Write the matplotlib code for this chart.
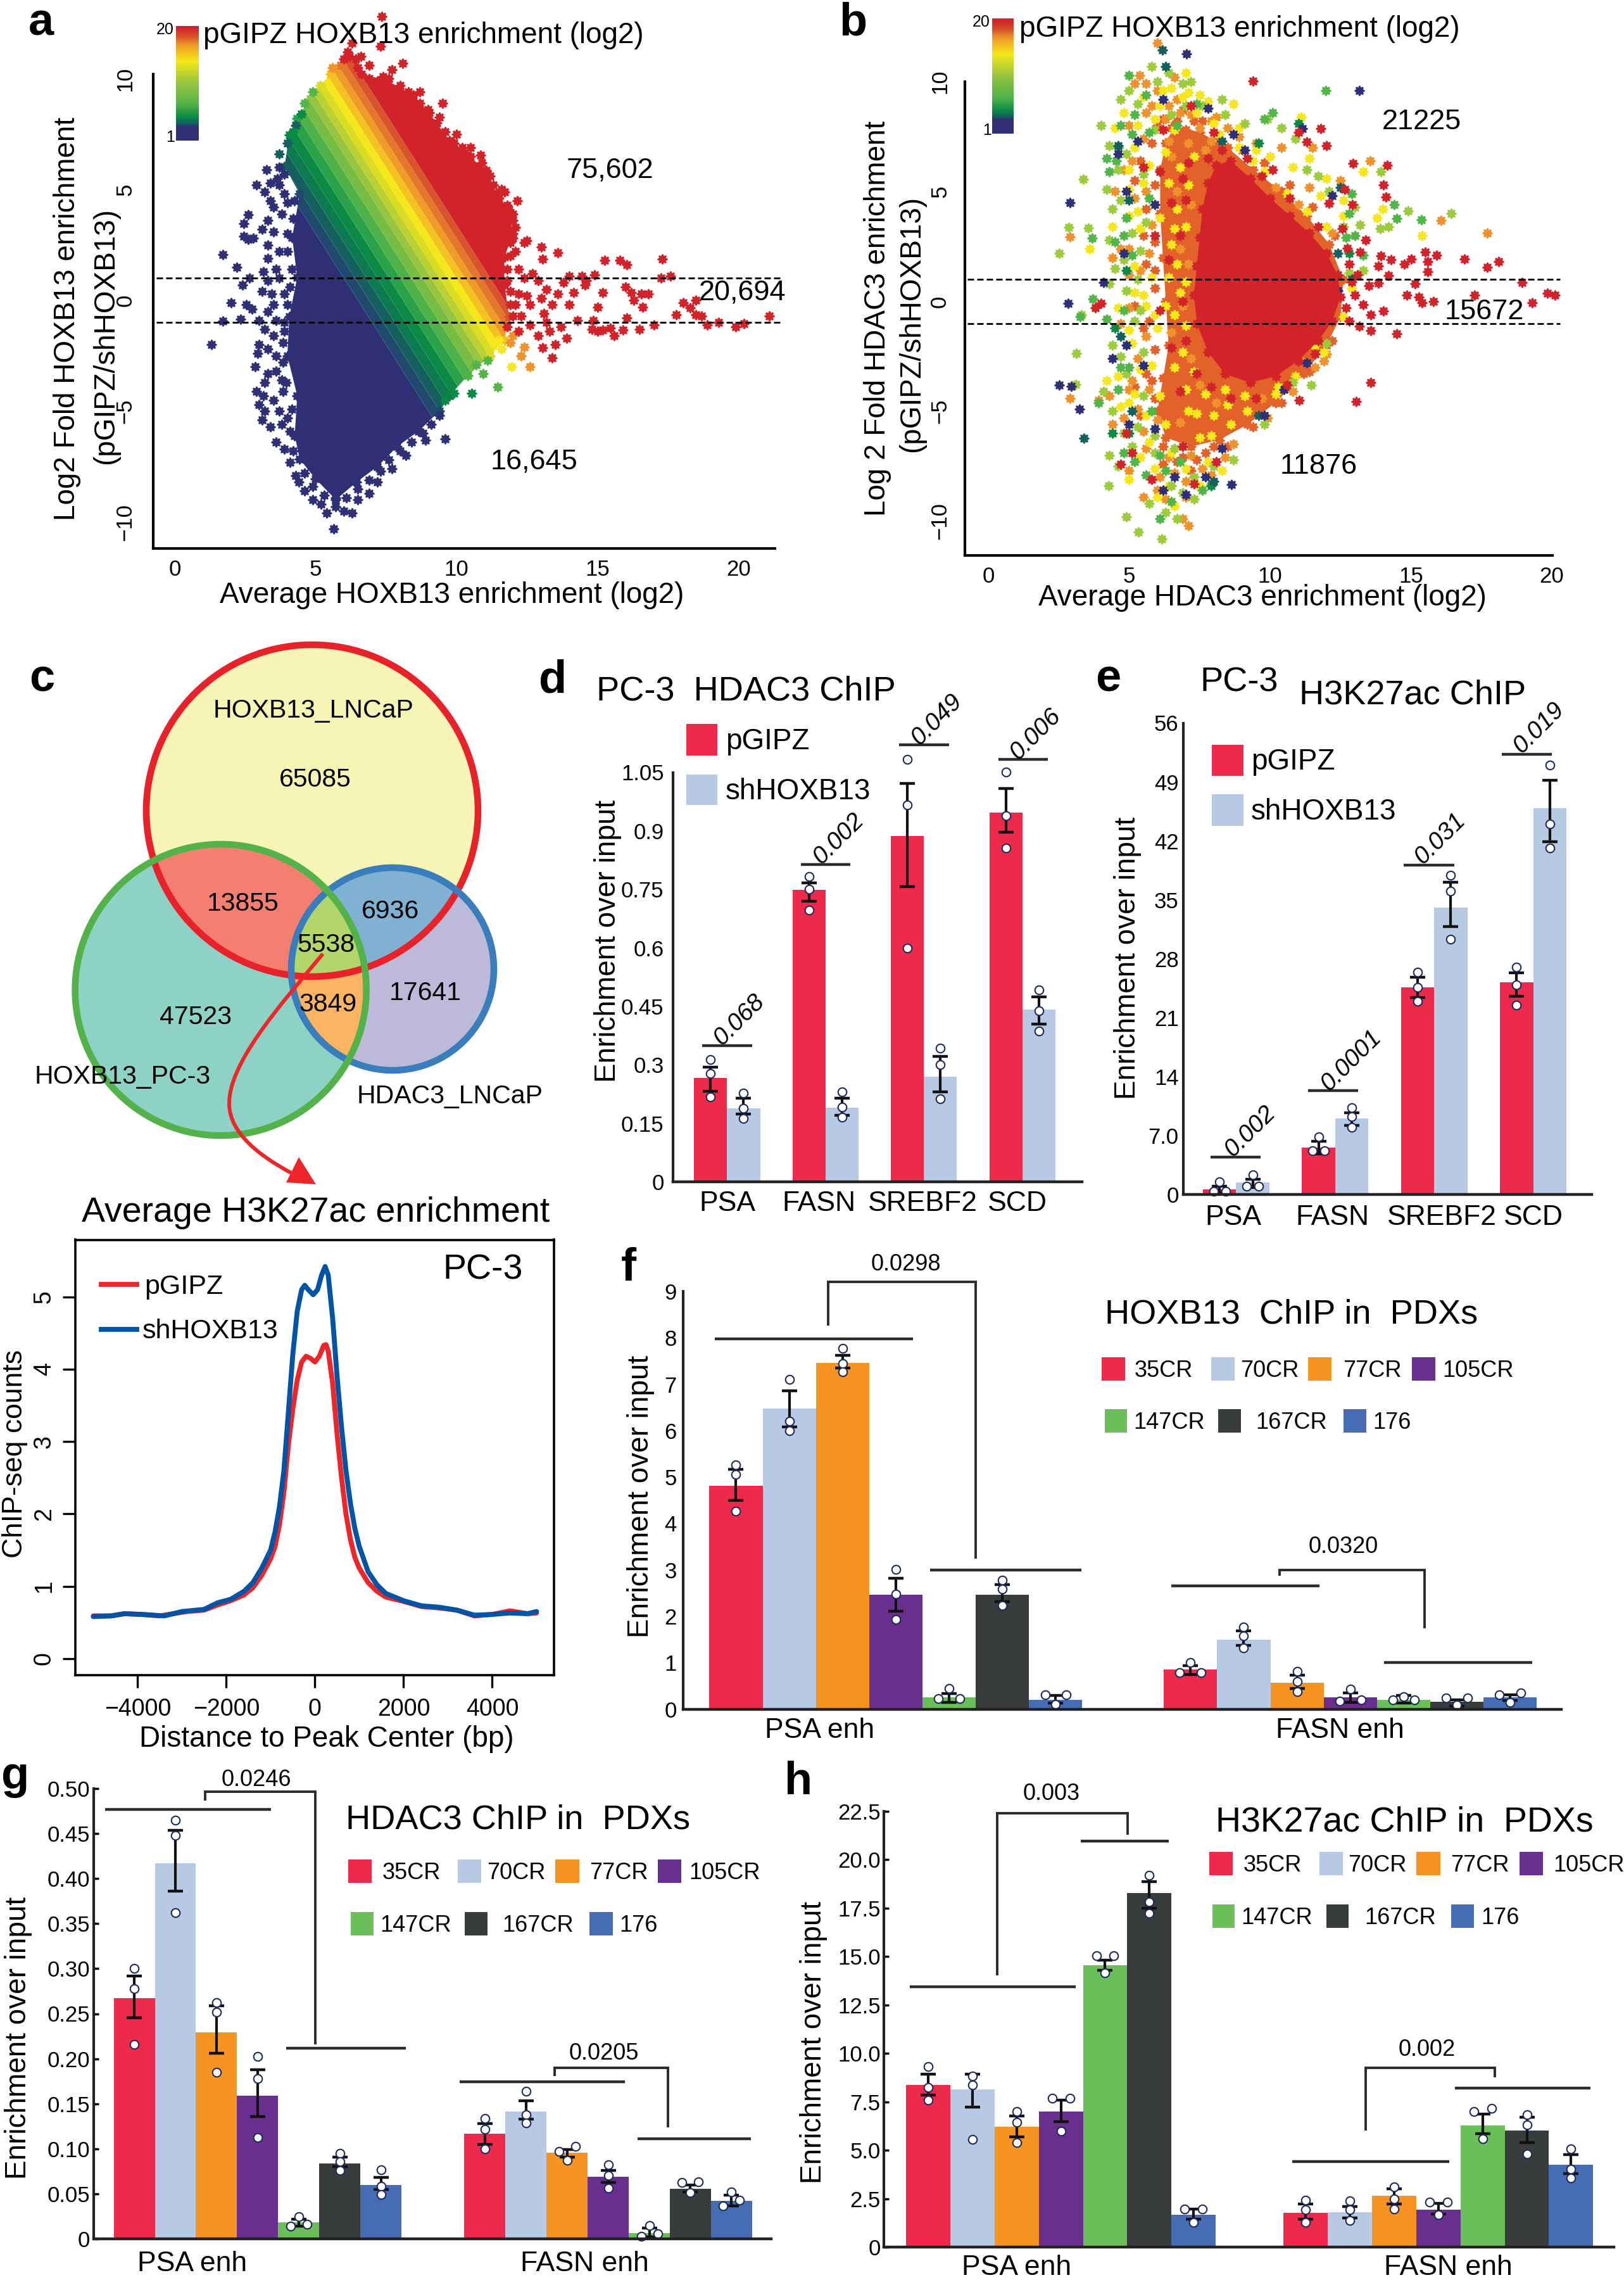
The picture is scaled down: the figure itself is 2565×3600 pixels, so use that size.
#!/usr/bin/env python3
"""Multi panel ChIP figure: MA plots, venn + profile, and bar charts with replicates."""
import numpy as np
import matplotlib
matplotlib.use('Agg')
import matplotlib.pyplot as plt
from matplotlib.colors import LinearSegmentedColormap
from matplotlib.patches import Circle, PathPatch, Polygon, Rectangle
from matplotlib.path import Path
from matplotlib.transforms import Affine2D

plt.rcParams['font.family'] = ['Liberation Sans', 'DejaVu Sans']

W, H = 2565, 3600

# colours
RED, LBLUE, ORANGE, PURPLE, GREEN, DARK, BLUE = ('#EE2A4C', '#B8CAE3', '#F79321', '#6A2F8E',
                                                 '#6BBF59', '#393C3D', '#466CB3')
PDX_COLORS = [RED, LBLUE, ORANGE, PURPLE, GREEN, DARK, BLUE]
PDX_NAMES = ['35CR', '70CR', '77CR', '105CR', '147CR', '167CR', '176']
SC_NAVY, SC_TEAL, SC_DGREEN, SC_GREEN, SC_LGREEN = '#2E2F74', '#15605F', '#0C8A45', '#52B548', '#9CCB3B'
SC_YELLOW, SC_ORANGE, SC_DORANGE, SC_RED = '#F6E71D', '#F0922B', '#E2622A', '#D2232A'

# =============================================================================
# a: MA plot, HOXB13
# =============================================================================
a_envelope = [(5.54, 10.2), (5.9, 10.6), (6.13, 11.2), (6.42, 10.9), (6.64, 10.2), (7.56, 9.9), (8.48, 9.25),
              (9.03, 8.45), (9.76, 7.2), (10.3, 6.67), (11.05, 5.86), (11.4, 4.8), (11.87, 4.08), (12.0, 3.0),
              (11.7, 1.94), (11.7, 0.7), (11.87, -0.74), (11.7, -1.8), (11.2, -2.5), (10.4, -3.4), (9.76, -4.3),
              (9.4, -5.0), (8.66, -5.9), (7.9, -6.6), (7.2, -7.5), (6.46, -8.2), (5.72, -9.0), (5.0, -8.06),
              (4.44, -7.17), (4.26, -6.1), (4.35, -4.3), (4.0, -2.5), (4.07, -0.74), (4.35, 1.04), (4.17, 2.83),
              (4.44, 4.8), (3.9, 6.04), (4.07, 7.47), (4.35, 8.2), (4.8, 9.1), (5.17, 9.7)]
# level of pGIPZ enrichment (average + fold/2) where each colour stripe starts
a_band_start = [0.0, 6.5, 6.9, 7.3, 7.7, 8.1, 8.5, 8.9, 9.3, 9.6, 9.9, 10.2, 10.5, 10.8, 11.1, 11.4, 11.7]
a_band_color = ['#2E2F74', '#1F4A6E', '#15605F', '#0E7A50', '#0B8A45', '#2BA24A', '#4FB248', '#76BC45', '#97C53F',
                '#BAD033', '#DCDC22', '#F5E81A', '#F3C221', '#EF9B27', '#E3772B', '#D8552B', '#D2232A']
a_red = [(21.1, -0.7), (20.2, -1.05), (19.9, -1.2), (19.3, -1.0), (18.9, -1.1), (18.7, -0.7), (18.5, -0.65),
         (18.5, 0.0), (18.05, -0.1), (18.3, -0.35), (17.8, -0.65), (17.6, 1.1), (17.3, 1.85), (17.25, 1.0),
         (17.0, -1.1), (16.5, -1.3), (16.8, 0.3), (16.55, 0.3), (16.6, -0.3), (16.05, 1.6), (15.8, 1.8), (15.25, 1.8),
         (16.0, 0.6), (16.2, 0.35), (16.3, 0.0), (16.05, -0.8), (15.9, -1.35), (15.6, -1.6), (15.2, -1.35),
         (15.45, -1.25), (14.85, -0.9), (15.2, 0.35), (15.0, -0.3), (14.9, 1.15), (14.45, 1.1), (14.55, 0.7),
         (14.15, 0.35), (14.0, -0.2), (13.9, -1.7), (13.5, -2.0), (13.4, -2.6), (13.05, -2.15), (13.6, 2.15),
         (13.0, 2.4), (13.05, 1.85), (12.5, 2.7), (12.15, 4.5), (14.6, 0.9), (14.3, -0.9), (14.8, -1.3), (15.0, -1.4),
         (13.7, -1.2), (13.3, -1.4), (13.1, -0.6), (13.4, -0.2), (13.6, 0.3), (13.2, 0.5), (12.9, 0.9), (12.7, 1.2),
         (13.0, 0.1), (12.6, -0.2), (12.3, -0.7), (12.6, -1.1), (12.9, -1.6), (12.2, 0.3), (12.4, 1.0), (12.2, 1.4),
         (12.1, 2.2), (12.4, 2.6), (12.0, 2.8), (11.7, 4.9), (12.0, 3.6), (11.8, -1.2), (12.2, -1.4), (13.8, 0.8),
         (14.0, 1.1), (13.2, -1.0), (12.5, 0.2), (12.1, -0.2), (7.35, 12.8), (6.3, 11.6), (7.3, 11.45), (8.1, 10.7),
         (7.4, 10.1), (6.6, 11.0), (6.9, 10.6), (7.7, 10.4), (8.7, 9.4), (9.5, 8.9), (9.4, 8.25), (10.85, 6.55),
         (10.5, 6.9), (11.2, 5.6), (11.6, 5.0), (10.0, 7.5), (6.9, 10.0), (7.2, 9.9), (7.6, 10.0), (8.0, 9.7), (8.3, 9.4),
         (8.7, 8.9), (9.0, 8.6), (9.3, 8.0), (9.6, 7.6), (9.9, 7.1), (10.2, 6.9), (10.5, 6.5), (10.9, 6.2), (11.1, 5.7),
         (11.3, 5.2), (11.5, 4.6), (11.8, 4.3), (12.0, 3.9), (12.1, 3.3), (11.9, 2.6), (11.9, 2.0), (11.8, 1.4), (11.8, 0.9),
         (11.9, 0.4), (11.9, -0.2), (12.0, -0.7), (6.5, 10.5), (6.2, 11.0), (6.0, 10.9)]
a_navy = [(1.3, -2.0), (1.7, 2.05), (2.2, 1.5), (1.7, -0.95), (2.0, -0.1), (2.35, -0.85), (2.4, 0.7), (2.65, 1.0),
          (2.6, 3.85), (2.45, 3.45), (2.45, 2.9), (2.6, 2.75), (2.8, 2.8), (2.9, 5.2), (3.25, 5.9), (2.9, -4.1),
          (3.15, -4.3), (2.85, -3.0), (2.95, -2.4), (3.3, -3.3), (3.1, 0.4), (3.3, 0.9), (2.55, -0.2), (2.75, -0.4),
          (3.2, -1.3), (3.0, -0.9), (3.5, -0.2), (3.6, 1.4), (3.3, 1.9), (3.7, 2.2), (3.1, 3.2), (3.3, 3.6), (3.5, 3.1),
          (3.8, 3.9), (3.2, 4.9), (3.4, 4.5), (3.7, 5.2), (3.9, 5.7), (3.4, 5.3), (3.6, -2.5), (3.8, -3.6), (3.5, -4.5),
          (3.2, -5.0), (3.0, -4.7), (3.4, -5.7), (3.6, -6.4), (3.9, -6.7), (4.1, -7.3), (4.3, -7.9), (4.6, -8.6),
          (4.9, -9.0), (5.2, -9.2), (5.4, -9.6), (5.65, -10.3), (6.3, -9.6), (6.0, -9.5), (6.5, -9.0), (6.9, -8.7),
          (7.2, -8.2), (7.7, -7.6), (8.2, -7.0), (8.9, -6.3), (9.6, -6.25), (3.9, -1.4), (3.6, -0.9), (3.9, 0.3),
          (5.7, -8.9), (4.4, -8.2), (4.0, -5.3), (3.85, -4.1), (3.7, 1.0), (4.0, 4.4), (9.4, -5.2), (9.1, -5.6), (8.8, -6.0),
          (8.4, -6.4), (8.0, -6.8), (7.6, -7.2), (7.3, -7.7), (6.9, -8.1), (6.5, -8.5), (6.1, -8.9), (5.7, -9.3), (5.3, -8.8),
          (4.9, -8.4), (4.6, -7.8), (4.2, -6.8), (4.1, -5.9), (4.15, -4.9), (3.95, -3.7), (3.85, -2.8), (3.85, -1.9),
          (3.9, -1.0), (4.0, -0.2), (4.1, 0.6), (4.15, 1.4), (4.0, 2.2), (4.0, 3.0), (4.2, 3.7), (4.25, 4.5), (3.9, 4.8),
          (3.65, 5.5), (3.7, 6.0), (3.5, 4.2), (3.3, 2.5), (3.15, 1.3), (3.45, 0.3), (3.3, -0.5), (3.5, -1.6), (3.3, -2.2),
          (3.0, -2.0), (3.6, -3.2), (3.2, -3.7), (3.7, -5.0), (3.8, -5.6), (3.1, -5.4)]
a_edge_teal = [(3.7, 6.6), (4.0, 7.1), (4.3, 7.9)]
a_edge_dgreen = [(4.2, 7.6), (4.5, 8.4), (9.6, -4.5), (9.9, -4.2), (10.55, -4.2)]
a_edge_green = [(11.45, -3.9), (10.95, -3.3), (10.7, -2.9), (11.1, -2.7), (4.6, 8.9), (4.9, 9.4)]
a_edge_yellow = [(11.95, -3.0), (11.6, -2.2), (11.5, -1.8)]
a_edge_orange = [(12.6, -3.0), (12.3, -2.5), (12.4, -2.1), (12.0, -1.6), (11.9, -1.9), (5.6, 10.5)]

# =============================================================================
# b: MA plot, HDAC3
# =============================================================================
b_mid_outline = [(6.6, 8.0), (7.5, 7.7), (8.5, 7.0), (9.4, 6.0), (10.4, 5.0), (11.3, 3.9), (12.1, 2.6), (12.6, 1.0),
                 (12.5, -0.7), (12.0, -2.0), (11.2, -3.3), (10.2, -4.6), (9.2, -5.6), (8.2, -6.3), (7.2, -6.6), (6.3, -6.2),
                 (6.0, -5.0), (6.2, -3.5), (6.4, -2.0), (6.3, 0.0), (6.2, 2.0), (6.1, 4.0), (6.1, 6.0), (6.3, 7.2)]
b_core_outline = [(8.6, 6.4), (9.3, 5.6), (10.0, 4.7), (10.7, 3.9), (11.4, 3.1), (12.0, 2.2), (12.4, 1.2), (12.5, 0.2),
                  (12.2, -0.9), (11.7, -1.8), (11.0, -2.7), (10.2, -3.4), (9.3, -3.7), (8.4, -3.3), (7.8, -2.3), (7.4, -1.0),
                  (7.3, 0.3), (7.4, 1.6), (7.5, 2.9), (7.6, 4.2), (7.8, 5.4), (8.1, 6.2)]
b_red = [(14.15, 6.2), (12.95, 6.27), (14.03, 5.3), (14.1, 4.75), (16.9, 1.93), (18.1, 1.8), (17.7, 1.55), (18.95, 0.85),
         (19.85, 0.37), (20.1, 0.3), (19.3, -0.07), (17.25, 0.3), (15.8, 0.0), (15.4, -0.07), (14.85, 0.3), (15.27, 0.2),
         (15.14, 0.8), (15.6, 1.35), (15.9, 2.1), (15.5, 2.25), (15.6, 1.8), (15.0, 1.93), (14.77, 1.7), (14.3, 1.9),
         (13.94, 2.07), (13.85, 1.62), (14.2, 1.18), (13.85, 0.82), (13.5, 0.73), (13.3, -0.16), (14.03, -0.43),
         (13.57, -0.6), (13.17, -1.14), (13.57, -1.32), (14.5, -1.46), (13.57, -3.7), (13.06, -4.57), (11.03, -4.5),
         (9.4, 10.02), (11.8, 7.86), (12.0, 7.1), (11.3, 7.25), (11.0, 7.7), (12.65, 5.1), (12.74, 2.43), (13.2, 2.25),
         (13.4, 2.8), (12.56, 3.3), (12.93, 4.4), (12.1, 4.48), (13.1, 1.2), (12.8, 1.7), (13.0, 0.3), (12.7, -0.3),
         (12.8, -0.9), (12.9, 0.9), (4.0, -0.1), (3.8, -0.3), (4.9, -6.0), (4.7, -7.4), (6.1, 5.9), (6.5, 4.5), (5.9, 3.0),
         (6.4, 1.9), (6.1, -0.4), (6.5, -2.1), (5.1, -6.9), (6.8, -4.1), (6.9, -6.6), (7.3, -8.3), (8.1, -7.3), (5.5, 6.1),
         (6.2, 7.8), (7.2, 8.9), (8.0, 7.7), (9.2, 6.5), (5.8, -8.1), (10.1, 6.0), (7.8, 6.5), (7.1, 6.3), (8.3, 6.9),
         (6.9, 5.6), (7.0, 4.6), (6.8, 3.0), (6.9, 0.0), (7.0, -1.8), (7.4, -3.3), (7.9, -3.9), (8.6, -4.4), (9.5, -4.4),
         (10.6, -3.8), (11.6, -2.4), (10.7, 4.7), (9.7, 5.7), (11.7, 3.4)]
b_dorange = [(6.2, 8.3), (6.9, 8.7), (7.3, 8.2), (8.2, 7.4), (9.0, 6.9), (9.8, 6.3), (10.7, 5.3), (11.5, 4.3), (12.3, 3.0),
             (5.8, 7.2), (5.4, 6.4), (5.9, 5.3), (5.6, 4.2), (5.9, 2.7), (5.6, 1.7), (5.9, 0.6), (5.7, -0.9), (5.9, -2.2),
             (5.6, -3.3), (5.9, -4.4), (5.4, -5.2), (6.2, -6.6), (6.9, -7.1), (7.7, -6.9), (8.5, -6.6), (9.4, -5.7),
             (10.4, -4.6), (11.4, -3.2), (12.2, -1.8), (6.0, 8.0), (6.5, 7.9), (7.0, 7.8), (7.6, 8.2), (6.7, 8.2), (5.2, 5.5),
             (5.5, 3.0), (5.9, 1.4), (5.2, -0.2), (5.5, -1.2), (5.2, -3.9), (5.8, -3.6), (6.2, -7.4), (6.7, -7.3), (7.4, -7.2),
             (7.2, -7.7), (8.0, -6.6)]
b_orange = [(16.06, 3.68), (17.7, 3.1), (13.54, 6.4), (2.9, 2.93), (6.0, 11.75), (5.38, 10.3), (5.2, 9.9), (5.6, 9.9),
            (6.0, 9.6), (6.4, 8.9), (6.8, 8.6), (5.0, 8.0), (5.6, 8.6), (4.8, 6.0), (4.5, 5.0), (6.5, 6.6), (7.1, 7.2),
            (7.7, 6.9), (8.1, 8.4), (8.9, 7.5), (9.5, 7.2), (10.4, 7.0), (11.5, 7.0), (12.5, 5.5), (12.2, 3.1),
            (2.9, -4.4), (3.9, -4.5), (4.3, -4.3), (4.7, 2.4), (4.4, 2.0), (5.0, 1.2), (4.7, -1.0), (5.1, -3.6), (4.4, -5.6),
            (4.8, -5.3), (5.5, -5.9), (5.0, -7.7), (5.5, -8.9), (6.1, -8.0), (6.6, -7.8), (6.9, -9.9), (7.1, -10.2),
            (7.0, -8.9), (7.6, -7.6), (8.4, -7.1), (9.9, -5.3), (10.8, -4.1), (11.6, -3.0), (12.0, -2.4), (11.4, 5.2),
            (6.4, 7.3), (6.7, 5.0), (7.2, 4.4), (6.8, 2.4), (7.1, 1.7), (6.9, -0.2), (6.5, -1.4), (7.2, -2.6), (7.5, -3.8),
            (6.8, -5.5), (8.1, -4.6), (9.7, -4.4), (8.6, 6.2), (7.9, 7.3), (10.2, 5.2), (11.0, 4.4), (11.9, -2.7),
            (5.1, 6.4), (5.6, 5.0), (5.2, 4.7), (5.8, 3.5), (5.0, 2.4), (5.7, 2.2), (5.4, 1.4), (5.0, -0.3), (5.6, -1.6),
            (5.3, -2.6), (5.0, -4.0), (5.7, -4.0), (5.3, -4.9), (6.0, -5.4), (5.6, -6.7), (6.4, -7.1), (7.2, -7.0), (7.0, -8.2),
            (6.3, -9.0), (6.0, -8.6), (7.9, -7.9), (8.7, -6.5), (5.8, 8.9), (6.3, 8.3), (6.7, 9.2), (7.2, 8.5), (7.5, 7.9),
            (7.9, 8.2), (8.5, 7.9), (6.6, 10.2), (5.5, 7.4)]
b_yellow = [(4.5, 7.9), (4.8, 8.6), (5.2, 7.0), (5.5, 9.3), (5.9, 8.3), (6.2, 9.6), (6.6, 7.8), (6.9, 9.3), (7.0, 10.4),
            (7.1, 9.5), (7.4, 8.6), (7.8, 9.1), (8.2, 7.6), (8.7, 9.0), (9.4, 6.4), (10.0, 6.6), (11.1, 8.4), (11.4, 6.5),
            (12.0, 5.6), (12.6, 4.6), (12.6, 3.9), (13.3, 5.9), (13.8, 3.8), (15.4, 3.0), (14.0, 4.2), (4.4, 3.4), (3.6, 2.4),
            (5.0, 5.1), (5.3, 4.1), (5.7, 6.2), (6.1, 3.8), (6.4, 5.4), (6.5, 2.6), (6.7, 4.2), (5.2, 1.6), (5.5, 0.3),
            (5.9, -0.6), (6.3, -0.2), (6.4, 1.1), (6.8, 0.4), (6.0, -1.2), (5.1, -1.9), (5.4, -3.1), (4.6, -3.4), (4.2, -3.6),
            (5.0, -4.6), (5.6, -5.2), (6.1, -4.3), (6.6, -3.0), (6.3, -5.6), (7.1, -5.0), (7.5, -6.2), (5.4, -7.1), (5.9, -7.6),
            (6.4, -8.4), (5.0, -8.1), (7.0, -7.6), (7.8, -7.3), (8.6, -5.6), (9.2, -5.0), (10.2, -4.2), (11.0, -2.6),
            (11.6, -2.0), (12.6, -0.7), (12.9, 0.6), (6.3, 6.8), (6.8, 6.1), (7.1, 5.3), (7.3, 6.6), (7.0, 3.4), (6.6, 3.3),
            (6.7, 1.7), (7.0, 0.9), (6.6, -0.6), (7.0, -1.1), (6.9, -2.3), (7.3, -3.2), (7.7, -4.2), (7.0, -4.0), (7.4, -5.1),
            (8.0, -5.2), (8.5, -4.7), (9.1, -4.3), (7.9, -6.1), (8.4, -4.0), (8.9, 7.0), (9.8, 5.9), (10.6, 4.9), (11.3, 4.1),
            (12.0, 3.4), (11.9, -2.3), (10.9, -3.4), (10.3, -3.9), (5.0, 6.0), (5.5, 5.4), (5.4, 3.3), (5.0, 3.9), (5.8, 1.1),
            (5.2, 0.4), (4.6, -0.3), (5.6, -0.2), (5.0, -1.3), (5.8, -2.9), (5.2, -4.2), (4.7, -4.8), (5.7, -6.4), (6.5, -6.9),
            (6.0, -8.9), (6.6, -9.3), (7.5, -8.4), (8.3, -7.7), (5.3, 8.0), (6.1, 8.9), (6.5, 9.7), (7.5, 9.4), (8.0, 8.1),
            (8.9, 7.9), (9.5, 6.9), (10.8, 6.1), (11.8, 4.8)]
b_lgreen = [(2.52, 2.2), (2.85, 3.37), (3.37, 5.57), (3.55, 3.35), (16.43, 4.0), (14.9, 4.12), (13.94, 5.9), (3.13, -2.36),
            (3.11, -3.77), (6.15, -10.82), (5.32, -10.5), (4.9, -9.8), (4.27, -8.4), (11.45, -3.82), (4.0, 8.0), (4.3, 7.1),
            (4.7, 9.2), (5.0, 9.6), (5.3, 9.0), (5.8, 10.7), (6.4, 10.4), (6.9, 9.9), (7.6, 8.9), (8.4, 8.5), (9.1, 8.1),
            (9.9, 8.3), (10.9, 7.4), (11.3, 6.0), (12.1, 5.0), (13.0, 4.3), (13.2, 3.5), (13.9, 3.3), (14.2, 3.4), (4.2, 5.1),
            (4.4, 4.2), (4.9, 6.7), (5.1, 3.1), (5.4, 2.3), (4.5, 1.5), (4.9, 0.5), (5.3, 1.0), (5.2, -0.9), (3.3, -0.6),
            (4.7, -2.5), (5.5, -2.3), (4.4, -5.0), (4.8, -6.0), (5.1, -6.6), (5.9, -6.1), (6.6, -6.7), (6.9, -8.7), (7.3, -8.0),
            (8.0, -7.5), (8.7, -7.2), (6.3, -9.6), (6.7, -9.9), (5.7, -9.2), (4.6, -7.5), (4.3, -7.0), (9.8, -5.6),
            (10.8, -3.7), (12.0, -1.9), (12.8, 1.3), (13.3, 1.4), (4.6, 6.0), (5.5, 5.8), (4.7, 4.6), (5.6, 3.6), (4.3, 2.8),
            (4.8, 1.9), (4.3, 0.8), (5.4, -0.4), (4.4, -2.0), (4.9, -3.3), (5.5, -4.3), (4.1, -4.1), (5.3, -5.7), (5.9, -6.9),
            (6.5, -8.4), (7.3, -9.0), (7.9, -8.3), (5.9, 7.8), (6.5, 8.5), (7.0, 8.9), (6.0, 10.0), (7.2, 10.0), (8.3, 9.2),
            (10.4, 7.9), (11.7, 5.7), (12.6, 3.4)]
b_green = [(15.36, 3.71), (11.97, 9.6), (14.4, 4.4), (14.5, 3.77), (3.68, 2.87), (3.26, -0.7), (4.3, 5.9), (4.6, 7.0), (4.7, 8.0),
           (5.2, 8.5), (5.6, 9.4), (4.55, 6.4), (4.5, 2.7), (4.9, 3.8), (4.8, -0.4), (4.6, -4.0), (5.0, -3.0), (4.8, -6.9),
           (5.6, -7.9), (6.1, -7.0), (6.5, -9.1), (6.8, -7.3), (13.0, 3.0), (12.7, 2.9), (13.3, 2.1), (12.8, 4.0), (10.1, 8.6),
           (9.8, 8.3), (5.0, 10.3), (12.9, 4.9), (3.9, -4.6), (3.7, 0.1), (5.1, 7.6), (5.7, 7.7), (4.2, 6.5), (5.7, 4.7), (4.8, 3.0),
           (5.1, 2.1), (4.2, -0.8), (4.7, -3.0), (5.8, -5.0), (5.2, -7.3), (6.3, -7.7), (7.6, -8.6), (6.1, -9.9), (6.7, 8.0),
           (7.4, 9.0)]
b_navy = [(2.9, 4.5), (2.84, -0.1), (7.03, 11.27), (13.17, 9.6), (8.64, -8.34), (2.52, -3.82), (2.95, -3.87), (3.24, -4.9),
          (11.14, 7.87), (4.1, 0.85), (7.8, 8.8), (8.7, 7.6), (9.1, 6.9), (4.6, 6.7), (4.9, 5.0), (4.8, 2.2), (4.9, -2.0),
          (5.0, -5.6), (5.9, -5.8), (6.6, -8.0), (7.0, -8.8), (9.8, -5.2), (10.5, -4.0), (11.3, -2.8), (12.4, 0.5), (12.2, 4.8),
          (5.3, 7.3), (5.9, 4.4), (4.4, -2.6), (5.5, -2.9), (6.2, -8.6), (7.7, -8.0), (8.3, -6.7), (6.2, 9.2)]
b_teal = [(6.17, 11.45), (3.39, -6.23), (6.3, 10.7), (4.6, 7.1), (5.0, 4.6), (4.7, -1.6), (5.1, -5.0), (8.0, -8.2), (9.6, -5.2),
          (12.5, 5.2), (12.4, 2.2), (12.9, 1.0), (8.3, 7.3)]
b_dgreen = [(11.0, 8.1), (4.9, 1.4), (4.5, -1.2), (5.0, -6.0), (7.9, -8.4), (4.4, -6.0), (12.8, 2.2), (9.6, 7.2)]

# colour scale next to the MA plots, bottom to top
scale_stops = [(0.0, '#2E2F74'), (0.12, '#2E2F74'), (0.15, '#15605F'), (0.2, '#0B8A45'), (0.31, '#4FB248'),
               (0.5, '#97C53F'), (0.69, '#F5E81A'), (0.83, '#EF9B27'), (0.9, '#D8552B'), (0.98, '#D2232A'), (1.0, '#D2232A')]

# =============================================================================
# c: venn counts and profile
# =============================================================================
venn_counts = [('65085', 498, 1228), ('13855', 384, 1424), ('6936', 616, 1436), ('5538', 515, 1489),
               ('3849', 518, 1583), ('17641', 672, 1565), ('47523', 309, 1603)]
venn_names = [('HOXB13_LNCaP', 495, 1119), ('HOXB13_PC-3', 194, 1697), ('HDAC3_LNCaP', 711, 1728)]

prof_x_red = [-5000, -4600, -4300, -3900, -3500, -3200, -2900, -2500, -2200, -1900, -1600, -1400, -1200, -1000, -900, -800,
              -700, -600, -500, -400, -300, -200, -100, 0, 100, 200, 250, 300, 400, 500, 600, 700, 800, 900, 1000, 1200,
              1400, 1600, 2000, 2400, 2800, 3200, 3600, 4000, 4400, 4800, 5000]
prof_y_red = [0.59, 0.59, 0.62, 0.61, 0.59, 0.62, 0.65, 0.67, 0.74, 0.8, 0.88, 0.98, 1.15, 1.38, 1.55, 1.85, 2.3, 2.95, 3.45,
              3.85, 4.1, 4.18, 4.15, 4.1, 4.18, 4.33, 4.34, 4.25, 3.8, 3.1, 2.5, 2.0, 1.65, 1.4, 1.25, 1.05, 0.93, 0.85, 0.79,
              0.72, 0.7, 0.67, 0.59, 0.61, 0.66, 0.62, 0.63]
prof_x_blue = [-5000, -4600, -4300, -3900, -3400, -3000, -2500, -2200, -1900, -1600, -1400, -1200, -1000, -900, -800, -700,
               -600, -500, -400, -300, -230, -150, -40, 60, 150, 230, 300, 400, 500, 600, 700, 800, 900, 1000, 1200, 1400,
               1600, 2000, 2400, 2800, 3200, 3600, 4000, 4400, 4800, 5000]
prof_y_blue = [0.58, 0.59, 0.62, 0.61, 0.59, 0.65, 0.68, 0.77, 0.82, 0.93, 1.05, 1.25, 1.5, 1.75, 2.1, 2.6, 3.4, 4.2, 4.8, 5.1,
               5.16, 5.1, 5.03, 5.1, 5.3, 5.42, 5.3, 4.7, 3.9, 3.2, 2.6, 2.15, 1.8, 1.55, 1.2, 1.02, 0.9, 0.8, 0.73, 0.71, 0.67,
               0.6, 0.61, 0.63, 0.62, 0.65]

# =============================================================================
# d: PC-3 HDAC3 ChIP
# =============================================================================
d_red = [0.267, 0.749, 0.887, 0.947]
d_blue = [0.189, 0.19, 0.27, 0.442]
d_red_hi = [0.294, 0.766, 1.021, 1.008]
d_red_lo = [0.233, 0.72, 0.757, 0.896]
d_blue_hi = [0.215, 0.215, 0.321, 0.475]
d_blue_lo = [0.173, 0.171, 0.23, 0.405]
d_red_pts = [[0.313, 0.278, 0.218], [0.783, 0.75, 0.697], [1.083, 0.966, 0.599], [1.051, 0.938, 0.856]]
d_blue_pts = [[0.227, 0.189, 0.162], [0.23, 0.192, 0.165], [0.343, 0.3, 0.213], [0.492, 0.438, 0.387]]
d_sig = [(-0.253, 0.253, 0.35), (0.75, 1.255, 0.813), (1.75, 2.255, 1.121), (2.755, 3.26, 1.084)]
d_ptext = [('0.068', 1168, 1608), ('0.002', 1325, 1322), ('0.049', 1480, 1134), ('0.006', 1636, 1157)]
d_ticks = [0, 0.15, 0.3, 0.45, 0.6, 0.75, 0.9, 1.05]
d_ticklabels = ['0', '0.15', '0.3', '0.45', '0.6', '0.75', '0.9', '1.05']

# =============================================================================
# e: PC-3 H3K27ac ChIP
# =============================================================================
e_red = [0.6, 5.52, 24.6, 25.2]
e_blue = [1.37, 8.97, 34.05, 45.9]
e_red_hi = [0.93, 6.3, 25.8, 26.3]
e_red_lo = [0.13, 4.8, 23.4, 23.5]
e_blue_hi = [1.8, 9.67, 37.1, 49.2]
e_blue_lo = [0.8, 8.2, 31.8, 41.9]
e_red_pts = [[1.46, 0.35, 0.35], [6.85, 5.17, 5.17], [26.4, 24.6, 22.9], [27.0, 24.9, 22.5]]
e_blue_pts = [[2.34, 0.93, 0.93], [10.3, 9.19, 7.95], [37.9, 36.0, 30.3], [51.0, 43.99, 41.1]]
e_sig = [(-0.258, 0.245, 4.42), (0.726, 1.229, 12.28), (1.69, 2.2, 39.1), (2.68, 3.19, 52.3)]
e_ptext = [('0.002', 1975, 1784), ('0.0001', 2134, 1672), ('0.031', 2275, 1322), ('0.019', 2431, 1147)]
e_ticks = [0, 7, 14, 21, 28, 35, 42, 49, 56]
e_ticklabels = ['0', '7.0', '14', '21', '28', '35', '42', '49', '56']

# =============================================================================
# f: HOXB13 ChIP in PDXs
# =============================================================================
f_psa = [4.81, 6.47, 7.46, 2.47, 0.26, 2.47, 0.2]
f_psa_hi = [5.17, 6.86, 7.62, 2.82, 0.34, 2.68, 0.3]
f_psa_lo = [4.5, 6.08, 7.35, 2.11, 0.15, 2.32, 0.13]
f_psa_pts = [[5.26, 5.06, 4.26], [7.11, 6.2, 6.0], [7.77, 7.44, 7.27], [3.01, 2.48, 1.93], [0.44, 0.22, 0.22],
             [2.78, 2.59, 2.23], [0.31, 0.31, 0.11]]
f_fasn = [0.85, 1.5, 0.57, 0.26, 0.2, 0.16, 0.25]
f_fasn_hi = [0.93, 1.68, 0.73, 0.35, 0.3, 0.2, 0.31]
f_fasn_lo = [0.74, 1.37, 0.44, 0.15, 0.13, 0.06, 0.18]
f_fasn_pts = [[1.0, 0.79, 0.79], [1.77, 1.58, 1.32], [0.82, 0.6, 0.38], [0.43, 0.2, 0.17], [0.27, 0.2, 0.2],
              [0.24, 0.24, 0.09], [0.35, 0.31, 0.15]]
f_lines = [(-0.4, 3.32, 7.98), (3.64, 6.48, 3.0), (8.17, 10.95, 2.65), (12.16, 14.94, 1.0)]
f_brackets = [([1.73, 1.73, 4.5, 4.5], [8.26, 9.2, 9.2, 3.24]), ([10.2, 10.2, 12.92, 12.92], [2.88, 3.0, 3.0, 1.74])]
f_ticks = list(range(10))

# =============================================================================
# g: HDAC3 ChIP in PDXs
# =============================================================================
g_psa = [0.267, 0.417, 0.229, 0.159, 0.018, 0.084, 0.06]
g_psa_hi = [0.2917, 0.4536, 0.2585, 0.1876, 0.022, 0.0906, 0.0683]
g_psa_lo = [0.2453, 0.3864, 0.2057, 0.1358, 0.014, 0.08, 0.0547]
g_psa_pts = [[0.3, 0.278, 0.216], [0.4645, 0.448, 0.362], [0.262, 0.2517, 0.185], [0.2023, 0.178, 0.1128],
             [0.0245, 0.016, 0.0143], [0.095, 0.086, 0.0762], [0.0766, 0.0585, 0.049]]
g_fasn = [0.117, 0.1415, 0.0955, 0.0687, 0.0065, 0.0555, 0.0423]
g_fasn_hi = [0.128, 0.153, 0.0992, 0.0762, 0.012, 0.0596, 0.0483]
g_fasn_lo = [0.105, 0.133, 0.0906, 0.0623, 0.0019, 0.052, 0.0366]
g_fasn_pts = [[0.1336, 0.122, 0.1], [0.1638, 0.1377, 0.129], [0.103, 0.097, 0.0872], [0.082, 0.0706, 0.0562],
              [0.0151, 0.0057, 0.0026], [0.063, 0.0623, 0.051], [0.052, 0.0426, 0.0366]]
g_lines = [(-0.71, 3.32, 0.477), (3.69, 6.61, 0.2117), (7.91, 11.93, 0.1743), (12.24, 15.0, 0.1113)]
g_brackets = [([1.73, 1.73, 4.4, 4.4], [0.4868, 0.4962, 0.4962, 0.2158]),
              ([10.22, 10.22, 12.99, 12.99], [0.181, 0.19, 0.19, 0.1238])]
g_ticks = [0, 0.05, 0.1, 0.15, 0.2, 0.25, 0.3, 0.35, 0.4, 0.45, 0.5]
g_ticklabels = ['0', '0.05', '0.10', '0.15', '0.20', '0.25', '0.30', '0.35', '0.40', '0.45', '0.50']

# =============================================================================
# h: H3K27ac ChIP in PDXs
# =============================================================================
h_psa = [8.39, 8.14, 6.23, 7.0, 14.56, 18.28, 1.68]
h_psa_hi = [8.95, 8.95, 6.77, 7.6, 14.82, 18.88, 1.96]
h_psa_lo = [7.86, 7.23, 5.7, 6.5, 14.3, 17.5, 1.44]
h_psa_pts = [[9.32, 8.25, 7.58], [8.84, 8.39, 5.56], [7.02, 6.46, 5.4], [7.68, 7.68, 6.0], [15.05, 15.05, 14.16],
             [19.2, 17.82, 17.25], [1.98, 1.98, 1.28]]
h_fasn = [1.77, 1.82, 2.65, 1.93, 6.3, 6.02, 4.25]
h_fasn_hi = [2.25, 2.1, 3.02, 2.28, 6.88, 6.72, 4.79]
h_fasn_lo = [1.46, 1.53, 2.25, 1.72, 5.86, 5.4, 3.79]
h_fasn_pts = [[2.42, 1.93, 1.28], [2.4, 1.93, 1.4], [3.12, 2.49, 1.98], [2.33, 2.33, 1.67], [7.02, 7.16, 5.61],
              [6.84, 6.32, 4.81], [5.09, 4.02, 3.56]]
h_lines = [(-0.42, 3.33, 13.44), (3.45, 5.44, 20.98), (8.23, 11.77, 4.44), (11.91, 14.97, 8.21)]
h_brackets = [([1.56, 1.56, 4.51, 4.51], [14.04, 22.4, 22.4, 21.28]), ([9.89, 9.89, 12.8, 12.8], [6.02, 9.25, 9.25, 8.77])]
h_ticks = [0, 2.5, 5, 7.5, 10, 12.5, 15, 17.5, 20, 22.5]
h_ticklabels = ['0', '2.5', '5.0', '7.5', '10.0', '12.5', '15.0', '17.5', '20.0', '22.5']

# =============================================================================
# helpers (everything placed in pixels of the final picture)
# =============================================================================
fig = plt.figure(figsize=(W / 100, H / 100), dpi=100)
PX = Affine2D().scale(1 / W, -1 / H).translate(0, 1) + fig.transFigure


def ax_px(x0, y0, x1, y1):
    ax = fig.add_axes([x0 / W, 1 - y1 / H, (x1 - x0) / W, (y1 - y0) / H])
    ax.patch.set_visible(False)
    return ax


def px_text(x, y, s, size, ha='center', va='center', **kw):
    return fig.text(x, y + 3, s, fontsize=size, ha=ha, va=va, transform=PX, **kw)


def set_labels(ax, xlabel, ylabel, size=33):
    if xlabel:
        ax.set_xlabel(xlabel[0], fontsize=size, va='center')
        ax.xaxis.set_label_coords(xlabel[1], xlabel[2] + 3, transform=PX)
    ax.set_ylabel(ylabel[0], fontsize=size, va='center')
    ax.yaxis.set_label_coords(ylabel[1], ylabel[2], transform=PX)


def swatches(rows, size=26):
    for (x0, y0, x1, y1, color, label, tx) in rows:
        fig.add_artist(Rectangle((x0, y0), x1 - x0, y1 - y0, transform=PX, color=color, lw=0))
        px_text(tx, (y0 + y1) / 2, label, size, ha='left')


def dodge(vals, gap, dx):
    """Two replicates closer than gap sit side by side, the others stay on the bar centre."""
    vals = list(vals)
    off = [0.0] * len(vals)
    order = np.argsort(vals)
    for a, b in zip(order[:-1], order[1:]):
        if off[a] == 0 and off[b] == 0 and abs(vals[a] - vals[b]) < gap:
            off[a], off[b] = -dx, dx
    return off


def draw_bars(ax, xs, vals, colors, hi, lo, pts, width, gap, dx):
    xs, hi, lo = np.asarray(xs, float), np.asarray(hi), np.asarray(lo)
    ax.bar(xs, vals, width, color=colors, linewidth=0, zorder=2)
    ax.errorbar(xs, (hi + lo) / 2, yerr=(hi - lo) / 2, fmt='none', ecolor='#111111', elinewidth=3, capsize=8.5,
                capthick=3.2, clip_on=False, zorder=3)
    for x, p in zip(xs, pts):
        off = dodge(p, gap, dx)
        ax.scatter(x + np.array(off), p, s=95, facecolor='white', edgecolor='#1D2A5C', linewidth=1.5,
                   clip_on=False, zorder=4)


def style_bar_axis(ax, xlim, ylim, yticks, yticklabels, pad, xticks, xticklabels, xpad, tick_at=None, all_ticks=False):
    ax.set_xlim(*xlim)
    ax.set_ylim(*ylim)
    for side in ('top', 'right'):
        ax.spines[side].set_visible(False)
    ax.spines['left'].set_linewidth(3)
    ax.spines['bottom'].set_linewidth(3.2)
    ax.spines['left'].set_color('#222222')
    ax.spines['bottom'].set_color('#222222')
    ax.spines['bottom'].set_zorder(5)
    ax.set_yticks(yticks)
    ax.set_yticklabels(yticklabels)
    ax.set_xticks(xticks)
    ax.set_xticklabels(xticklabels)
    ax.tick_params(axis='x', length=0, labelsize=32, pad=xpad)
    if all_ticks:
        ax.tick_params(axis='y', direction='in', length=6, width=2.5, labelsize=25, pad=pad)
    else:
        ax.tick_params(axis='y', length=0, labelsize=25, pad=pad)
    if tick_at is not None:
        ax.set_yticks(tick_at, minor=True)
        ax.tick_params(axis='y', which='minor', direction='in', length=7, width=3)


def sig_lines(ax, lines, brackets=()):
    for x0, x1, y in lines:
        ax.plot([x0, x1], [y, y], color='#2B2B2B', lw=3.2, solid_capstyle='butt', clip_on=False, zorder=5)
    for xs, ys in brackets:
        ax.plot(xs, ys, color='#2B2B2B', lw=2.8, solid_capstyle='butt', solid_joinstyle='miter', clip_on=False, zorder=5)


def scatter_set(ax, pts, color, size=95):
    ax.scatter([p[0] for p in pts], [p[1] for p in pts], s=size, marker=(8, 1, 0), facecolor=color, edgecolor=color,
               linewidths=2.2, clip_on=False, zorder=3)


def ma_axis(rect, xlim, ylim, pad, xpad):
    ax = ax_px(*rect)
    ax.set_xlim(*xlim)
    ax.set_ylim(*ylim)
    for side in ('top', 'right'):
        ax.spines[side].set_visible(False)
    ax.spines['left'].set_linewidth(3)
    ax.spines['bottom'].set_linewidth(3)
    ax.set_xticks([0, 5, 10, 15, 20])
    ax.set_yticks([-10, -5, 0, 5, 10])
    ax.set_yticklabels(['\u221210', '\u22125', '0', '5', '10'], rotation=90, va='center')
    ax.tick_params(axis='both', length=0, labelsize=25)
    ax.tick_params(axis='y', pad=pad)
    ax.tick_params(axis='x', pad=xpad)
    return ax


def color_scale(x0, y0, x1, y1, tx20, ty20, tx1, ty1):
    cax = ax_px(x0, y0, x1, y1)
    cmap = LinearSegmentedColormap.from_list('scale', scale_stops)
    cax.imshow(np.linspace(1, 0, 256).reshape(-1, 1), cmap=cmap, aspect='auto', vmin=0, vmax=1)
    cax.axis('off')
    cax.set_zorder(4)
    px_text(tx20, ty20, '20', 18)
    px_text(tx1, ty1, '1', 18)


# =============================================================================
# panel a
# =============================================================================
ax = ma_axis((242, 117.5, 1224, 866), (-0.76, 21.3), (-11.2, 10.19), 20, 12)
env = Polygon(a_envelope, closed=True, fill=False, lw=0)
ax.add_patch(env)
env.set_clip_box(None)
for i, col in enumerate(a_band_color):
    v0 = a_band_start[i]
    v1 = a_band_start[i + 1] if i + 1 < len(a_band_start) else 40.0
    band = ax.fill([v0 - 8, v1 - 8, v1 + 8, v0 + 8], [16, 16, -16, -16], color=col, lw=0, zorder=2)[0]
    band.set_clip_box(None)
    band.set_clip_path(env)
# rough rim: envelope points take the colour of the stripe they fall in
for x, y in a_envelope:
    idx = np.searchsorted(a_band_start, x + y / 2) - 1
    scatter_set(ax, [(x, y)], a_band_color[idx])
scatter_set(ax, a_navy, SC_NAVY)
scatter_set(ax, a_edge_teal, SC_TEAL)
scatter_set(ax, a_edge_dgreen, SC_DGREEN)
scatter_set(ax, a_edge_green, SC_GREEN)
scatter_set(ax, a_edge_yellow, SC_YELLOW)
scatter_set(ax, a_edge_orange, SC_ORANGE)
scatter_set(ax, a_red, SC_RED)
for y in (1, -1):
    ax.plot([-0.65, 21.6], [y, y], color='black', lw=2, dashes=(3.6, 1.8), clip_on=False, zorder=4)
set_labels(ax, ('Average HOXB13 enrichment (log2)', 714, 937), ('Log2 Fold HOXB13 enrichment', 106, 503))
px_text(167, 527, '(pGIPZ/shHOXB13)', 33, rotation=90)
color_scale(277.5, 40.6, 312.6, 222, 261, 44, 269, 214)
px_text(321, 53, 'pGIPZ HOXB13 enrichment (log2)', 33, ha='left')
px_text(963, 266, '75,602', 32.5)
px_text(1173, 459, '20,694', 32.5)
px_text(843, 726, '16,645', 32.5)

# =============================================================================
# panel b
# =============================================================================
ax = ma_axis((1524, 129, 2452, 877), (-0.83, 20.02), (-11.56, 9.81), 16.5, 12)
ax.add_patch(Polygon(b_mid_outline, closed=True, color=SC_DORANGE, lw=0, zorder=2))
scatter_set(ax, b_mid_outline, SC_DORANGE)
scatter_set(ax, b_dorange, SC_DORANGE)
scatter_set(ax, b_orange, SC_ORANGE)
scatter_set(ax, b_yellow, SC_YELLOW)
scatter_set(ax, b_lgreen, SC_LGREEN)
scatter_set(ax, b_green, SC_GREEN)
scatter_set(ax, b_dgreen, SC_DGREEN)
scatter_set(ax, b_teal, SC_TEAL)
scatter_set(ax, b_navy, SC_NAVY)
scatter_set(ax, b_red, SC_RED)
scatter_set(ax, b_core_outline, SC_RED)
ax.add_patch(Polygon(b_core_outline, closed=True, color=SC_RED, lw=0, zorder=3.2))
for y in (1, -1):
    ax.plot([-0.74, 20.3], [y, y], color='black', lw=2, dashes=(3.6, 1.8), clip_on=False, zorder=4)
set_labels(ax, ('Average HDAC3 enrichment (log2)', 1994, 941), ('Log 2 Fold HDAC3 enrichment', 1386, 503))
px_text(1440, 508, '(pGIPZ/shHOXB13)', 33, rotation=90)
color_scale(1567, 29, 1601, 211, 1550, 32.5, 1559, 203)
px_text(1610, 42.5, 'pGIPZ HOXB13 enrichment (log2)', 33, ha='left')
px_text(2245, 190, '21225', 32.5)
px_text(2344, 489, '15672', 32.5)
px_text(2083, 733, '11876', 32.5)

# =============================================================================
# panel c: venn
# =============================================================================
ax = ax_px(0, 980, 900, 1890)
ax.set_xlim(0, 900)
ax.set_ylim(1890, 980)
ax.axis('off')
A, B, C = ((493, 1280), 262), ((348.6, 1563), 230), ((620, 1530), 160)


def disc(c, color):
    p = Circle(c[0], c[1], facecolor=color, edgecolor='none')
    ax.add_patch(p)
    return p


def rim(c, color):
    ax.add_patch(Circle(c[0], c[1], facecolor='none', edgecolor=color, lw=7.6))


def overlap(c1, c2, color):
    p = disc(c1, color)
    clip = Circle(c2[0], c2[1], transform=ax.transData)
    p.set_clip_path(clip)


disc(A, '#F7F5B5')
disc(B, '#8DD2C5')
disc(C, '#BDBAD9')
overlap(A, B, '#F47E70')
overlap(A, C, '#80B1D3')
overlap(B, C, '#FDB462')
# outline of the three way overlap: circle points that lie inside the other two
tri = []
for c, others in ((A, (B, C)), (B, (A, C)), (C, (A, B))):
    t = np.linspace(0, 2 * np.pi, 1500)
    px, py = c[0][0] + c[1] * np.cos(t), c[0][1] + c[1] * np.sin(t)
    keep = np.ones_like(t, bool)
    for o in others:
        keep &= (px - o[0][0]) ** 2 + (py - o[0][1]) ** 2 < o[1] ** 2
    tri += list(zip(px[keep], py[keep]))
tri = np.array(tri)
mid = tri.mean(axis=0)
tri = tri[np.argsort(np.arctan2(tri[:, 1] - mid[1], tri[:, 0] - mid[0]))]
ax.add_patch(Polygon(tri, closed=True, color='#B3D66C', lw=0))
rim(A, '#E8212A')
rim(C, '#3A7DBD')
rim(B, '#53B24A')
for s, x, y in venn_counts + venn_names:
    px_text(x, y, s, 29.5)
arrow = Path([(510, 1506), (440, 1590), (360, 1680), (362, 1745), (364, 1790), (410, 1825), (460, 1852)],
             [Path.MOVETO, Path.CURVE4, Path.CURVE4, Path.CURVE4, Path.CURVE4, Path.CURVE4, Path.CURVE4])
ax.add_patch(PathPatch(arrow, facecolor='none', edgecolor='#EE2529', lw=4.3, zorder=6))
ax.add_patch(Polygon([(472, 1827), (452, 1867), (499, 1870)], closed=True, color='#EE2529', lw=0, zorder=6))

# =============================================================================
# panel c: profile
# =============================================================================
ax = ax_px(119, 1957.5, 875, 2644.6)
ax.plot(prof_x_red, prof_y_red, color='#EE2529', lw=5.6, solid_capstyle='round')
ax.plot(prof_x_blue, prof_y_blue, color='#0054A6', lw=5.6, solid_capstyle='round')
ax.set_xlim(-5406, 5394)
ax.set_ylim(-0.226, 5.79)
for s in ax.spines.values():
    s.set_linewidth(2.6)
ax.set_xticks([-4000, -2000, 0, 2000, 4000])
ax.set_xticklabels(['\u22124000', '\u22122000', '0', '2000', '4000'])
ax.set_yticks([0, 1, 2, 3, 4, 5])
ax.set_yticklabels(['0', '1', '2', '3', '4', '5'], rotation=90, va='center')
ax.tick_params(axis='both', length=14.4, width=2.4, labelsize=27)
ax.tick_params(axis='x', pad=12)
ax.tick_params(axis='y', pad=8)
set_labels(ax, ('Distance to Peak Center (bp)', 516, 2743), ('ChIP-seq counts', 24, 2296), size=32)
ax.xaxis.label.set_fontsize(33)
px_text(499, 1912, 'Average H3K27ac enrichment', 40)
px_text(763, 2003, 'PC-3', 40)
fig.add_artist(plt.Line2D([160, 216], [2027.5, 2027.5], color='#EE2529', lw=5.6, transform=PX))
fig.add_artist(plt.Line2D([160, 216], [2099, 2099], color='#0054A6', lw=5.6, transform=PX))
px_text(228, 2029, 'pGIPZ', 31, ha='left')
px_text(225, 2099, 'shHOXB13', 31, ha='left')

# =============================================================================
# panel d
# =============================================================================
ax = ax_px(1062.5, 1219.5, 1709, 1866)
xg = np.arange(4)
draw_bars(ax, xg - 0.1675, d_red, RED, d_red_hi, d_red_lo, d_red_pts, 0.335, 0.02, 0.06)
draw_bars(ax, xg + 0.1675, d_blue, LBLUE, d_blue_hi, d_blue_lo, d_blue_pts, 0.335, 0.02, 0.06)
style_bar_axis(ax, (-0.553, 3.607), (0, 1.05), d_ticks, d_ticklabels, 10, [0, 0.93, 1.99, 2.95],
               ['PSA', 'FASN', 'SREBF2', 'SCD'], 10, tick_at=[1.05])
sig_lines(ax, d_sig)
set_labels(ax, None, ('Enrichment over input', 960, 1486))
px_text(942, 1089, 'PC-3  HDAC3 ChIP', 39, ha='left')
swatches([(1084, 1143, 1132.5, 1193, RED, 'pGIPZ', 1146), (1084, 1222.5, 1132.5, 1271, LBLUE, 'shHOXB13', 1146)], 33)
for s, x, y in d_ptext:
    px_text(x, y, s, 28, rotation=45, style='italic', rotation_mode='anchor')

# =============================================================================
# panel e
# =============================================================================
ax = ax_px(1868.5, 1141.5, 2514, 1885.6)
draw_bars(ax, xg - 0.1675, e_red, RED, e_red_hi, e_red_lo, e_red_pts, 0.335, 1.0, 0.06)
draw_bars(ax, xg + 0.1675, e_blue, LBLUE, e_blue_hi, e_blue_lo, e_blue_pts, 0.335, 1.0, 0.06)
style_bar_axis(ax, (-0.536, 3.59), (0, 56), e_ticks, e_ticklabels, 5, [-0.03, 0.97, 2.08, 3.0],
               ['PSA', 'FASN', 'SREBF2', 'SCD'], 12, tick_at=[56])
sig_lines(ax, e_sig)
set_labels(ax, None, ('Enrichment over input', 1781, 1513))
px_text(1957, 1074, 'PC-3', 39)
px_text(2231, 1095, 'H3K27ac ChIP', 39)
swatches([(1914, 1175.5, 1964, 1225.4, RED, 'pGIPZ', 1976), (1914, 1253.6, 1964, 1303.5, LBLUE, 'shHOXB13', 1976)], 33)
for s, x, y in e_ptext:
    px_text(x, y, s, 28, rotation=45, style='italic', rotation_mode='anchor')

# =============================================================================
# panels f, g, h
# =============================================================================
x_psa = np.arange(7)
x_fasn = x_psa + 8.53
PDX_XLIM = (-0.995, 15.49)

ax = ax_px(1078.7, 2039, 2466, 2698.6)
draw_bars(ax, x_psa, f_psa, PDX_COLORS, f_psa_hi, f_psa_lo, f_psa_pts, 1.0, 0.15, 0.2)
draw_bars(ax, x_fasn, f_fasn, PDX_COLORS, f_fasn_hi, f_fasn_lo, f_fasn_pts, 1.0, 0.15, 0.2)
style_bar_axis(ax, PDX_XLIM, (0, 9), f_ticks, [str(v) for v in f_ticks], 7, [1.57, 11.33], ['PSA enh', 'FASN enh'], 10,
               tick_at=[8, 9])
sig_lines(ax, f_lines, f_brackets)
set_labels(ax, None, ('Enrichment over input', 1012, 2363))
px_text(1745, 2072, 'HOXB13  ChIP in  PDXs', 39, ha='left')
px_text(1431, 1994, '0.0298', 26)
px_text(2122, 2440, '0.0320', 26)
swatches([(1740, 2143, 1777, 2180, RED, '35CR', 1792), (1913, 2143, 1950, 2180, LBLUE, '70CR', 1959),
          (2066, 2143, 2103, 2180, ORANGE, '77CR', 2121), (2230, 2143, 2267, 2180, PURPLE, '105CR', 2278),
          (1745, 2225, 1780, 2262, GREEN, '147CR', 1790), (1924, 2225, 1960, 2262, DARK, '167CR', 1983),
          (2122, 2225, 2158, 2262, BLUE, '176', 2168)])

ax = ax_px(147.5, 2824, 1217.7, 3535)
draw_bars(ax, x_psa, g_psa, PDX_COLORS, g_psa_hi, g_psa_lo, g_psa_pts, 1.0, 0.006, 0.2)
draw_bars(ax, x_fasn, g_fasn, PDX_COLORS, g_fasn_hi, g_fasn_lo, g_fasn_pts, 1.0, 0.006, 0.2)
style_bar_axis(ax, PDX_XLIM, (0, 0.5), g_ticks, g_ticklabels, 4, [1.41, 10.96], ['PSA enh', 'FASN enh'], 14, all_ticks=True)
sig_lines(ax, g_lines, g_brackets)
set_labels(ax, None, ('Enrichment over input', 29, 3218))
px_text(546, 2871, 'HDAC3 ChIP in  PDXs', 39, ha='left')
px_text(405, 2807, '0.0246', 26)
px_text(954, 3239, '0.0205', 26)
swatches([(550, 2936, 587, 2973, RED, '35CR', 604), (723, 2936, 760, 2973, LBLUE, '70CR', 769),
          (877, 2936, 915, 2973, ORANGE, '77CR', 931), (1039, 2936, 1076, 2973, PURPLE, '105CR', 1088),
          (554, 3019, 590, 3056, GREEN, '147CR', 600), (734, 3019, 770, 3056, DARK, '167CR', 793),
          (931, 3019, 968, 3056, BLUE, '176', 978)])

ax = ax_px(1396.4, 2860, 2548.5, 3548.4)
draw_bars(ax, x_psa, h_psa, PDX_COLORS, h_psa_hi, h_psa_lo, h_psa_pts, 1.0, 0.3, 0.2)
draw_bars(ax, x_fasn, h_fasn, PDX_COLORS, h_fasn_hi, h_fasn_lo, h_fasn_pts, 1.0, 0.3, 0.2)
style_bar_axis(ax, PDX_XLIM, (0, 22.5), h_ticks, h_ticklabels, 4, [2.0, 11.75], ['PSA enh', 'FASN enh'], 8, all_ticks=True)
sig_lines(ax, h_lines, h_brackets)
set_labels(ax, None, ('Enrichment over input', 1285, 3225))
px_text(1920, 2874, 'H3K27ac ChIP in  PDXs', 40, ha='left')
px_text(1661, 2829, '0.003', 26)
px_text(2254, 3233, '0.002', 26)
swatches([(1910, 2924, 1947, 2961, RED, '35CR', 1964), (2084, 2924, 2121, 2961, LBLUE, '70CR', 2129),
          (2237, 2924, 2275, 2961, ORANGE, '77CR', 2291), (2400, 2924, 2437, 2961, PURPLE, '105CR', 2453),
          (1915, 3007, 1950, 3044, GREEN, '147CR', 1960), (2095, 3007, 2130, 3044, DARK, '167CR', 2155),
          (2292, 3007, 2328, 3044, BLUE, '176', 2339)])

# panel letters
for s, x, y in [('a', 65, 36), ('b', 1347, 37), ('c', 66, 1072), ('d', 873, 1075), ('e', 1750, 1073),
                ('f', 993, 2003), ('g', 24, 2805), ('h', 1261, 2814)]:
    px_text(x, y - 3, s, 52, fontweight='bold')

fig.savefig('out.png', dpi=100)
print('saved out.png')
